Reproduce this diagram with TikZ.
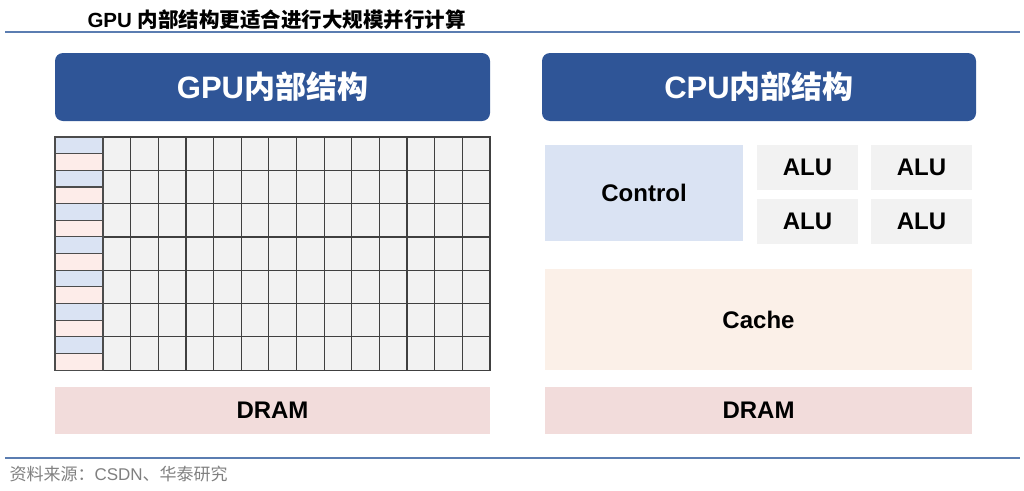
\documentclass[tikz,border=0pt]{standalone}
\usepackage{fontspec}
\setmainfont{Liberation Sans}
\newfontfamily\cjk{Noto Sans CJK SC}
\begin{document}
\begin{tikzpicture}[x=1pt,y=-1pt,
  hdr/.style={fill=hdrblue,rounded corners=8pt,draw=none},
  plain/.style={draw=none},
  lbl/.style={font=\bfseries\fontsize{24}{28}\selectfont},
  cell/.style={fill=gray!10,draw=black!75,line width=1.2pt}]
\definecolor{hdrblue}{HTML}{2F5597}
\definecolor{ctl}{HTML}{DAE3F3}
\definecolor{alu}{HTML}{F2F2F2}
\definecolor{cache}{HTML}{FBF0E8}
\definecolor{dram}{HTML}{F2DCDB}
\definecolor{pinkc}{HTML}{FDECE9}
\definecolor{rule}{HTML}{5B7DB1}
\useasboundingbox (0,0) rectangle (1024,490);
\draw[rule,line width=1.5pt] (5,32) -- (1020,32);
\draw[rule,line width=1.5pt] (5,458) -- (1020,458);
\node[anchor=base west,font=\bfseries\fontsize{20.5}{24}\selectfont] (title) at (84,27) {GPU {\cjk 内部结构更适合进行大规模并行计算}};
\node[anchor=base west,text=gray,font=\fontsize{17}{20}\selectfont] (src) at (6,480) {{\cjk 资料来源：}CSDN{\cjk 、华泰研究}};
% headers
\node[hdr,minimum width=435,minimum height=68,text=white,font=\bfseries\fontsize{31}{34}\selectfont] (gh) at (272.5,87) {GPU{\cjk 内部结构}};
\node[hdr,minimum width=434,minimum height=68,text=white,font=\bfseries\fontsize{31}{34}\selectfont] (ch) at (759,87) {CPU{\cjk 内部结构}};
% GPU grid
\foreach \r in {0,...,6}{
  \foreach \c in {0,...,13}{
    \draw[cell] ({103+\c*27.64},{137+\r*33.3}) rectangle ++(27.64,33.3);
  }
  \draw[fill=ctl,draw=black!70,line width=1.1pt] (55,{137+\r*33.3}) rectangle (103,{137+\r*33.3+16.65});
  \draw[fill=pinkc,draw=black!70,line width=1.1pt] (55,{137+\r*33.3+16.65}) rectangle (103,{137+(\r+1)*33.3});
}
\node[plain,fill=dram,minimum width=435,minimum height=47,lbl] (gd) at (272.5,410.5) {DRAM};
% CPU
\node[plain,fill=ctl,minimum width=198,minimum height=96,lbl] (ctl) at (644,193) {Control};
\node[plain,fill=alu,minimum width=101,minimum height=45,lbl] (a1) at (807.5,167.5) {ALU};
\node[plain,fill=alu,minimum width=101,minimum height=45,lbl] (a2) at (921.5,167.5) {ALU};
\node[plain,fill=alu,minimum width=101,minimum height=45,lbl] (a3) at (807.5,221) {ALU};
\node[plain,fill=alu,minimum width=101,minimum height=45,lbl] (a4) at (921.5,221) {ALU};
\node[plain,fill=cache,minimum width=427,minimum height=101,lbl] (ca) at (758.5,319.5) {Cache};
\node[plain,fill=dram,minimum width=427,minimum height=47,lbl] (cd) at (758.5,410.5) {DRAM};
\end{tikzpicture}
\end{document}
